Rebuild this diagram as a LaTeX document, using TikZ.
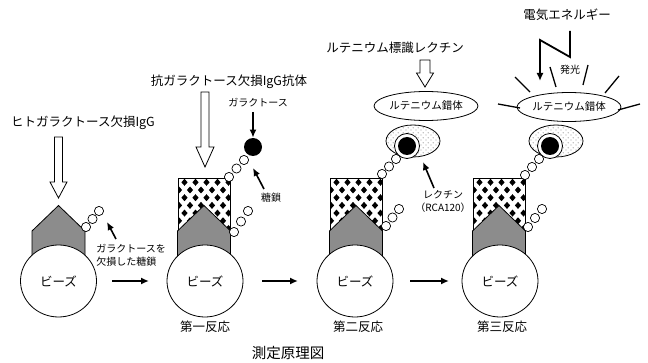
\documentclass[tikz,border=0pt]{standalone}
\usepackage{fontspec}
\setmainfont{Noto Sans CJK JP}
\usetikzlibrary{arrows.meta,shapes.geometric,patterns.meta}

% sparse stipple used for the lectin
\tikzdeclarepattern{
  name=stipple,
  type=uncolored,
  bottom left={(0pt,0pt)},
  top right={(5pt,4.6pt)},
  tile size={(5pt,4.6pt)},
  code={
    \fill (1.2pt,1.1pt) circle (0.5pt);
    \fill (3.7pt,3.4pt) circle (0.5pt);
  }
}

% downward hollow arrow: centre x, top, neck, tip, shaft half width, head half width
\newcommand\hollowdown[6]{%
  \draw[hollow] (#1-#5,#2) -- (#1+#5,#2) -- (#1+#5,#3) -- (#1+#6,#3)
    -- (#1,#4) -- (#1-#6,#3) -- (#1-#5,#3) -- cycle;}

% three sugar residues from one centre to another
\newcommand\sugarchain[4]{%
  \foreach \t in {0,0.5,1}
    \draw[sugar] ({#1+(#3-#1)*\t},{#2+(#4-#2)*\t}) circle (4.6pt);}

% checkered antibody block above the antigen
\newcommand\antibody[1]{%
  \begin{scope}
    \clip (#1-26,178) rectangle (#1+26,272);
    \foreach \j in {0,...,12}{
      \foreach \i in {-1,...,5}{
        \pgfmathsetmacro\dx{#1-19.5+11*\i-5.5*mod(\j,2)}
        \pgfmathsetmacro\dy{182.3+7.7*\j}
        \fill (\dx-3.1,\dy) -- (\dx,\dy-3.5) -- (\dx+3.1,\dy) -- (\dx,\dy+3.5) -- cycle;
      }
    }
  \end{scope}
  \draw (#1-26,272) -- (#1-26,178) -- (#1+26,178) -- (#1+26,272);}

% grey antigen shape
\newcommand\antigen[1]{%
  \draw[fab] (#1-26.5,272) -- (#1-26.5,231) -- (#1,205.5) -- (#1+26.5,231) -- (#1+26.5,272) -- cycle;}

\begin{document}
\begin{tikzpicture}[x=1pt,y=-1pt,line width=0.8pt,
  lab/.style={inner sep=0pt, font=\fontsize{12.5}{14}\selectfont},
  smalltxt/.style={inner sep=0pt, font=\fontsize{10}{13}\selectfont},
  bead/.style={ellipse, draw, fill=white, minimum width=76pt, minimum height=72pt,
    inner sep=0pt, font=\fontsize{12.5}{14}\selectfont},
  complex/.style={ellipse, draw, fill=white, minimum width=88pt, minimum height=29pt,
    inner sep=0pt, font=\fontsize{10.5}{12}\selectfont},
  lectin/.style={ellipse, draw, pattern=stipple, minimum width=54pt, minimum height=32pt, inner sep=0pt},
  ringnode/.style={circle, draw, fill=white, minimum size=25pt, inner sep=0pt},
  corenode/.style={circle, fill=black, minimum size=18pt, inner sep=0pt},
  sugar/.style={draw, fill=white, line width=0.7pt},
  ptr/.style={-{Latex[length=8pt,width=7pt]}, line width=1.6pt},
  ray/.style={line width=1.3pt},
  hollow/.style={draw, fill=white, line width=0.8pt},
  fab/.style={draw, fill=black!45},
]
\useasboundingbox (0,0) rectangle (648,363);

% ---------- stage 0: galactose-deficient IgG on the bead
\node[lab] (igg) at (83,123) {ヒトガラクトース欠損IgG};
\hollowdown{58.5}{137}{182}{198}{4}{8.5}
\antigen{58.5}
\sugarchain{86}{227}{99}{211}
\node[bead] (bead0) at (58.5,281) {ビーズ};
\coordinate (p0a) at (116,239);
\coordinate (p0b) at (107,222);
\draw[ptr] (p0a) -- (p0b);
\node[smalltxt, align=left, anchor=west] (defsugar) at (96,255) {ガラクトースを\\欠損した糖鎖};
\coordinate (s1a) at (112,281);
\coordinate (s1b) at (149,281);
\draw[ptr] (s1a) -- (s1b);

% ---------- stage 1: anti-galactose-deficient IgG antibody
\node[lab] (anti) at (229,82) {抗ガラクトース欠損IgG抗体};
\hollowdown{205}{92}{147}{167}{4}{9}
\antibody{204}
\antigen{204}
\sugarchain{234}{232}{248}{211}
\sugarchain{229}{177}{244}{160}
\node[corenode] (gal) at (253,147) {};
\node[smalltxt] (galtxt) at (258,103) {ガラクトース};
\coordinate (g1) at (253,112);
\draw[ptr] (g1) -- (gal.north);
\node[smalltxt] (chaintxt) at (271,198) {糖鎖};
\coordinate (c1a) at (264,189);
\coordinate (c1b) at (253,168);
\draw[ptr] (c1a) -- (c1b);
\node[bead] (bead1) at (205,281) {ビーズ};
\node[lab] (r1) at (205,327) {第一反応};
\coordinate (s2a) at (262,281);
\coordinate (s2b) at (298,281);
\draw[ptr] (s2a) -- (s2b);

% ---------- stage 2: ruthenium-labelled lectin
\node[lab] (rulec) at (395,48) {ルテニウム標識レクチン};
\hollowdown{425}{60}{73}{87}{5}{8.5}
\node[complex] (ru2) at (426,106) {ルテニウム錯体};
\node[lectin] (lec2) at (413,141) {};
\antibody{356}
\antigen{356}
\sugarchain{386}{226}{399}{209}
\sugarchain{382}{174}{396}{159}
\node[ringnode] (ring2) at (407,146) {};
\node[corenode] (core2) at (407,146) {};
\coordinate (l2a) at (434,188);
\coordinate (l2b) at (423,162);
\draw[ptr] (l2a) -- (l2b);
\node[smalltxt, align=center] (lectxt) at (443,201) {レクチン\\（RCA120）};
\node[bead] (bead2) at (355,281) {ビーズ};
\node[lab] (r2) at (358,327) {第二反応};
\coordinate (s3a) at (410,281);
\coordinate (s3b) at (449,281);
\draw[ptr] (s3a) -- (s3b);

% ---------- stage 3: electrochemiluminescence
\node[lab] (elec) at (567,15) {電気エネルギー};
\coordinate (b1) at (570,31);
\coordinate (b2) at (570,57);
\coordinate (b3) at (540,40);
\coordinate (b4) at (540,81);
\draw[ptr, line width=1.8pt] (b1) -- (b2) -- (b3) -- (b4);
\node[smalltxt] (glow) at (570,70) {発光};
\node[complex] (ru3) at (569,107) {ルテニウム錯体};
\draw[ray] (498,104) -- (520,108);
\draw[ray] (515,77) -- (530,92);
\draw[ray] (550,67) -- (556,87);
\draw[ray] (588,65) -- (583,85);
\draw[ray] (619,76) -- (605,93);
\draw[ray] (618,110) -- (640,104);
\node[lectin] (lec3) at (556,141) {};
\antibody{499}
\antigen{499}
\sugarchain{528}{227}{542}{209}
\sugarchain{525}{175}{539}{159}
\node[ringnode] (ring3) at (550,146) {};
\node[corenode] (core3) at (550,146) {};
\node[bead] (bead3) at (500,281) {ビーズ};
\node[lab] (r3) at (502,327) {第三反応};

% caption
\node[inner sep=0pt, font=\fontsize{14.5}{16}\selectfont] (cap) at (288,353) {測定原理図};
\end{tikzpicture}
\end{document}
